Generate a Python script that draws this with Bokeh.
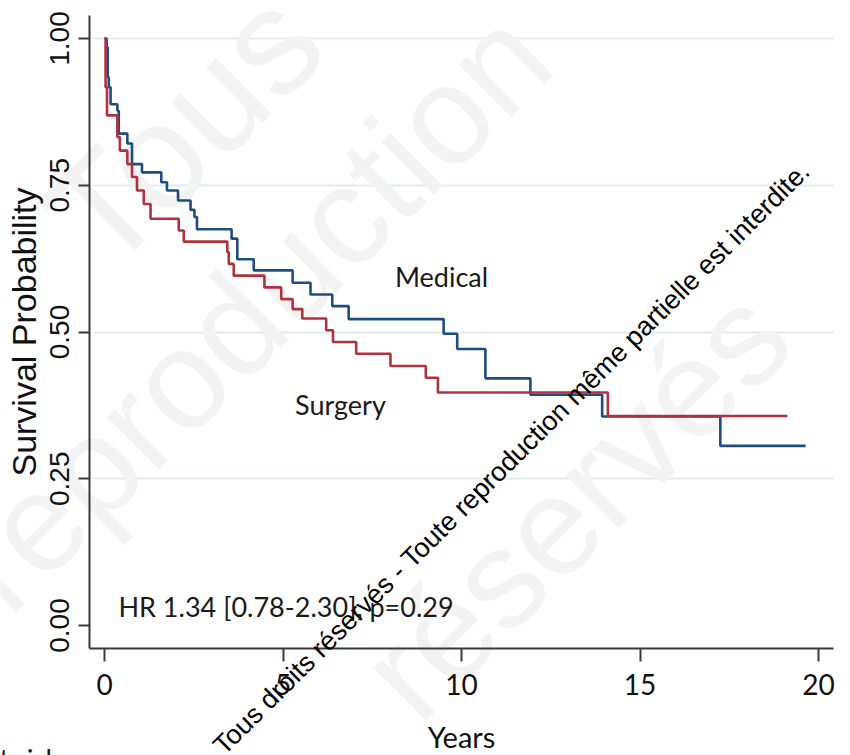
from bokeh.plotting import figure
from bokeh.models import Range1d, Label, FixedTicker, LinearAxis
from bokeh.embed import file_html
from bokeh.resources import INLINE

# ---- data ----
medical_t = [0, 0.06, 0.09, 0.12, 0.17, 0.36, 0.40, 0.64, 0.77, 1.05, 1.59, 1.75, 2.06, 2.41, 2.52,
             2.59, 3.56, 3.72, 4.18, 5.27, 5.77, 6.38, 6.84, 9.50, 9.88, 10.67, 11.93, 13.94, 17.25, 19.64]
medical_s = [1.0, 0.985, 0.934, 0.917, 0.888, 0.877, 0.838, 0.821, 0.786, 0.772, 0.755, 0.741, 0.724, 0.708, 0.696,
             0.675, 0.659, 0.624, 0.605, 0.584, 0.564, 0.544, 0.522, 0.497, 0.471, 0.421, 0.393, 0.356, 0.306, 0.306]

surgery_t = [0, 0.03, 0.07, 0.36, 0.43, 0.64, 0.77, 0.91, 1.10, 1.29, 2.08, 2.22, 3.44, 3.48, 3.62,
             4.48, 4.95, 5.27, 5.54, 6.21, 6.40, 7.05, 8.01, 9.00, 9.34, 14.10, 19.13]
surgery_s = [1.0, 0.917, 0.869, 0.832, 0.809, 0.786, 0.764, 0.741, 0.718, 0.693, 0.673, 0.654, 0.636, 0.616, 0.596,
             0.576, 0.556, 0.539, 0.523, 0.503, 0.483, 0.463, 0.442, 0.422, 0.397, 0.357, 0.357]

x_ticks = [0, 5, 10, 15, 20]
x_tick_labels = ["0", "5", "10", "15", "20"]
y_ticks = [0.0, 0.25, 0.5, 0.75, 1.0]
y_tick_labels = ["0.00", "0.25", "0.50", "0.75", "1.00"]
grid_ticks = [0.25, 0.5, 0.75, 1.0]

BLUE = "#1f4d7c"
RED = "#b1323e"

W, H = 850, 755
# the plot frame covers the whole canvas; axes sit at fixed locations inside it
X0, X1 = -0.42, 20.42          # extent of the drawn x axis
Y0, Y1 = -0.039, 1.039         # extent of the drawn y axis
PX_PER_YEAR = 35.7
PX_PER_UNIT = 587.0
x_range = Range1d(-104 / PX_PER_YEAR, (W - 104) / PX_PER_YEAR)
y_range = Range1d(-(H - 625) / PX_PER_UNIT, 625 / PX_PER_UNIT)

p = figure(width=W, height=H, output_backend="svg", toolbar_location=None,
           x_range=x_range, y_range=y_range, x_axis_location=None, y_axis_location=None,
           min_border_left=0, min_border_right=0, min_border_top=0, min_border_bottom=0)
p.outline_line_color = None
p.background_fill_color = "white"
p.border_fill_color = "white"

# faint background watermark words (start points in page pixels)
for txt, px, py, fs in [("Tous", 130, 300, "150px"), ("reproduction", 30, 640, "140px"),
                        ("réservés", 440, 748, "140px")]:
    p.add_layout(Label(x=px, y=H - py, x_units="screen", y_units="screen", text=txt,
                       angle=45, angle_units="deg", text_font="Liberation Sans",
                       text_font_size=fs, text_color="#f3f3f3", level="underlay"))

xaxis = LinearAxis(fixed_location=Y0, bounds=(X0, X1))
yaxis = LinearAxis(fixed_location=X0, bounds=(Y0, Y1))
p.add_layout(xaxis, "below")
p.add_layout(yaxis, "left")

# grid
p.ygrid.ticker = FixedTicker(ticks=grid_ticks)
try:
    p.ygrid.cross_bounds = (X0 + 0.1, X1)
except Exception:
    pass
p.ygrid.grid_line_color = "#dfeced"
p.ygrid.grid_line_width = 2
p.xgrid.visible = False

for ax in (xaxis, yaxis):
    ax.axis_line_color = "#3a3a3a"
    ax.axis_line_width = 2
    ax.major_tick_line_color = "#3a3a3a"
    ax.major_tick_line_width = 2
    ax.minor_tick_line_color = None
    ax.major_tick_in = 0
    ax.major_label_text_color = "#111111"
    ax.axis_label_text_color = "#111111"
    ax.axis_label_text_font_style = "normal"

xaxis.ticker = FixedTicker(ticks=x_ticks)
xaxis.major_label_overrides = {t: l for t, l in zip(x_ticks, x_tick_labels)}
xaxis.major_tick_out = 13
xaxis.major_label_standoff = 13
xaxis.major_label_text_font = "Lato"
xaxis.major_label_text_font_size = "28px"
xaxis.axis_label = "Years"
xaxis.axis_label_text_font = "Lato"
xaxis.axis_label_text_font_size = "29px"
xaxis.axis_label_standoff = 20

yaxis.ticker = FixedTicker(ticks=y_ticks)
yaxis.major_label_overrides = {t: l for t, l in zip(y_ticks, y_tick_labels)}
yaxis.major_label_orientation = "vertical"
yaxis.major_tick_out = 11
yaxis.major_label_standoff = 10
yaxis.major_label_text_font = "Liberation Sans"
yaxis.major_label_text_font_size = "28px"
yaxis.axis_label = "Survival Probability"
yaxis.axis_label_text_font = "Liberation Sans"
yaxis.axis_label_text_font_size = "34px"
yaxis.axis_label_standoff = 4

# survival curves
p.step(medical_t, medical_s, mode="after", line_color=BLUE, line_width=2.6)
p.step(surgery_t, surgery_s, mode="after", line_color=RED, line_width=2.6)

# annotations
p.add_layout(Label(x=9.44, y=0.595, text="Medical", text_font="Lato", text_font_size="27px",
                   text_align="center", text_baseline="middle", text_color="#1a1a1a"))
p.add_layout(Label(x=6.61, y=0.376, text="Surgery", text_font="Lato", text_font_size="27px",
                   text_align="center", text_baseline="middle", text_color="#1a1a1a"))
p.add_layout(Label(x=0.39, y=0.032, text="HR 1.34 [0.78-2.30], p=0.29", text_font="Lato",
                   text_font_size="27px", text_align="left", text_baseline="middle", text_color="#1a1a1a"))

# cut-off risk table heading at the bottom-left
p.add_layout(Label(x=-15, y=H - 758, x_units="screen", y_units="screen", text="at risk",
                   text_font="Lato", text_font_size="28px", text_baseline="alphabetic",
                   text_color="#1a1a1a"))

# diagonal watermark
p.add_layout(Label(x=228, y=H - 760, x_units="screen", y_units="screen",
                   text="Tous droits réservés - Toute reproduction même partielle est interdite.",
                   angle=44.8, angle_units="deg", text_font="Liberation Sans", text_font_size="27px",
                   text_color="#000000"))

open("out.html", "w").write(file_html(p, INLINE))
